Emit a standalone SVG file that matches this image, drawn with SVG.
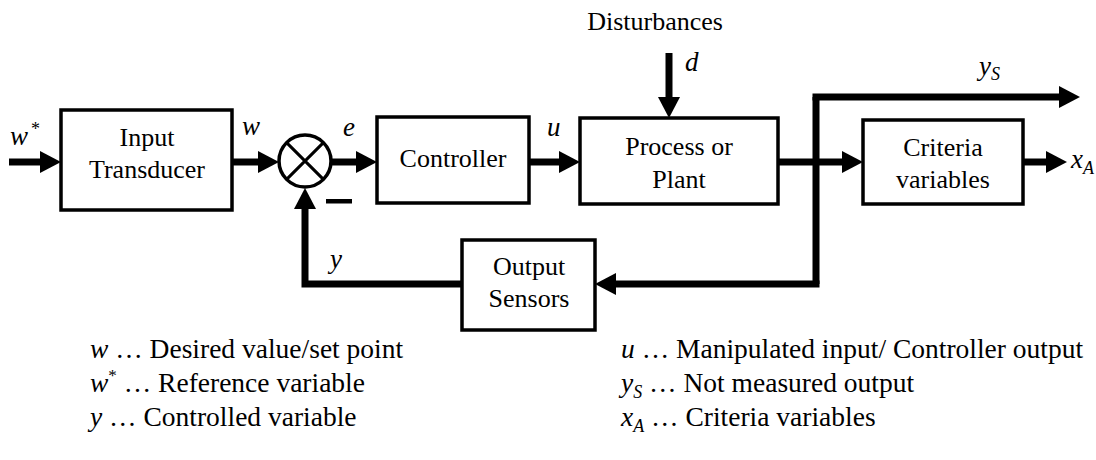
<svg xmlns="http://www.w3.org/2000/svg" width="1096" height="460" viewBox="0 0 1096 460" font-family="Liberation Serif, Tinos, DejaVu Serif, Noto Serif, Times New Roman, Times, serif">
<style>
  .box { fill: #fff; stroke: #000; stroke-width: 3.5; }
  .wire { fill: none; stroke: #000; stroke-width: 7; stroke-linejoin: miter; }
  .arr { fill: none; stroke: #000; stroke-width: 7; marker-end: url(#ah); }
  .t { font-family: "Liberation Serif", Tinos, "DejaVu Serif", "Noto Serif", "Times New Roman", Times, serif; font-size: 26px; text-anchor: middle; fill: #000; }
  .v { font-family: "Liberation Serif", Tinos, "DejaVu Serif", "Noto Serif", "Times New Roman", Times, serif; font-size: 27px; font-style: italic; fill: #000; }
  .sub { font-size: 18px; }
  .lg { font-family: "Liberation Serif", Tinos, "DejaVu Serif", "Noto Serif", "Times New Roman", Times, serif; font-size: 27.5px; fill: #000; }
</style>
<defs>
  <marker id="ah" markerUnits="userSpaceOnUse" markerWidth="24" markerHeight="24" refX="1" refY="11" orient="auto" overflow="visible">
    <path d="M0,0 L21,11 L0,22 Z" fill="#000"/>
  </marker>
</defs>
<rect width="1096" height="460" fill="#fff"/>

<g id="connectors">
  <path class="arr" d="M9,162 H41"/>
  <path class="arr" d="M232,162 H259"/>
  <path class="arr" d="M331,162 H357"/>
  <path class="arr" d="M529,162 H560"/>
  <path class="arr" d="M669,53 V98"/>
  <path class="arr" d="M778,162 H843"/>
  <path class="wire" d="M816,284 V97"/>
  <path class="arr" d="M812.5,97 H1060"/>
  <path class="arr" d="M819.5,284 H615"/>
  <path class="arr" d="M462,284 H305 V208"/>
  <path class="arr" d="M1023,162 H1047"/>
  <rect x="326" y="199" width="26" height="4.5" fill="#000"/>
</g>

<g id="input-transducer">
  <rect class="box" x="61" y="110" width="171" height="100"/>
  <text class="t" x="147" y="146">Input</text>
  <text class="t" x="147" y="178">Transducer</text>
</g>

<g id="summing-junction">
  <circle cx="305" cy="161" r="26" fill="#fff" stroke="#000" stroke-width="3.5"/>
  <path d="M286.6,142.6 L323.4,179.4 M323.4,142.6 L286.6,179.4" stroke="#000" stroke-width="3" fill="none"/>
</g>

<g id="controller">
  <rect class="box" x="377" y="117" width="152" height="86"/>
  <text class="t" x="453" y="167">Controller</text>
</g>

<g id="process">
  <rect class="box" x="580" y="118" width="198" height="86"/>
  <text class="t" x="679" y="155">Process or</text>
  <text class="t" x="679" y="188">Plant</text>
</g>

<g id="criteria">
  <rect class="box" x="863" y="120" width="160" height="84"/>
  <text class="t" x="943" y="156">Criteria</text>
  <text class="t" x="943" y="188">variables</text>
</g>

<g id="output-sensors">
  <rect class="box" x="462" y="240" width="133" height="90"/>
  <text class="t" x="529" y="275">Output</text>
  <text class="t" x="529" y="307">Sensors</text>
</g>

<g id="labels">
  <text class="t" x="655" y="30">Disturbances</text>
  <text class="v" x="10" y="145">w<tspan class="sub" dx="3" dy="-10" font-style="normal">*</tspan></text>
  <text class="v" x="242" y="135">w</text>
  <text class="v" x="343" y="136">e</text>
  <text class="v" x="547" y="136">u</text>
  <text class="v" x="685" y="71">d</text>
  <text class="v" x="330" y="268">y</text>
  <text class="v" x="979" y="75">y<tspan class="sub" dy="5">S</tspan></text>
  <text class="v" x="1071" y="168">x<tspan class="sub" dy="6">A</tspan></text>
</g>

<g id="legend">
  <text class="lg" x="90" y="358"><tspan font-style="italic">w</tspan> … Desired value/set point</text>
  <text class="lg" x="90" y="392"><tspan font-style="italic">w</tspan><tspan font-size="17" dy="-11">*</tspan><tspan dy="11"> … Reference variable</tspan></text>
  <text class="lg" x="90" y="426"><tspan font-style="italic">y</tspan> … Controlled variable</text>
  <text class="lg" x="621" y="358"><tspan font-style="italic">u</tspan> … Manipulated input/ Controller output</text>
  <text class="lg" x="621" y="392"><tspan font-style="italic">y</tspan><tspan font-style="italic" font-size="18" dy="6">S</tspan><tspan dy="-6"> … Not measured output</tspan></text>
  <text class="lg" x="621" y="426"><tspan font-style="italic">x</tspan><tspan font-style="italic" font-size="18" dy="6">A</tspan><tspan dy="-6"> … Criteria variables</tspan></text>
</g>
</svg>
